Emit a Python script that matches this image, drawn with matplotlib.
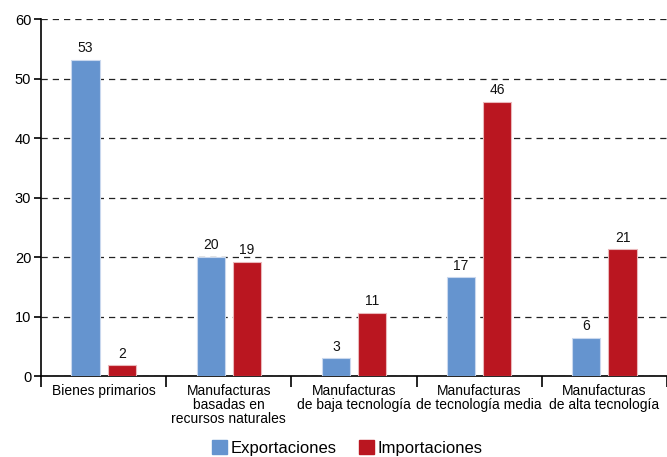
import matplotlib
matplotlib.use("Agg")
import matplotlib.pyplot as plt
from matplotlib.patches import Patch
import numpy as np

plt.rcParams['font.family'] = ['Liberation Sans', 'DejaVu Sans']

categories = ["Bienes primarios",
              "Manufacturas\nbasadas en\nrecursos naturales",
              "Manufacturas\nde baja tecnología",
              "Manufacturas\nde tecnología media",
              "Manufacturas\nde alta tecnología"]
exportaciones = [53.2, 20.0, 3.0, 16.6, 6.4]
importaciones = [1.8, 19.2, 10.6, 46.1, 21.3]
export_labels = ["53", "20", "3", "17", "6"]
import_labels = ["2", "19", "11", "46", "21"]
series_names = ["Exportaciones", "Importaciones"]
yticks = [0, 10, 20, 30, 40, 50, 60]

blue = "#6594CF"
red = "#BA1620"

fig = plt.figure(figsize=(6.67, 4.57), dpi=100)
ax = fig.add_axes([0.0615, 0.177, 0.9385, 0.781])

x = np.arange(len(categories))
w = 0.225
off = 0.145
ax.bar(x - off, exportaciones, w, color=blue, edgecolor="#c9d8ee", linewidth=0.8, zorder=3)
ax.bar(x + off, importaciones, w, color=red, edgecolor="#eab8bb", linewidth=0.8, zorder=3)

for xi, v, t in zip(x - off, exportaciones, export_labels):
    ax.text(xi, v + 0.8, t, ha="center", va="bottom", fontsize=10, color="#111111")
for xi, v, t in zip(x + off, importaciones, import_labels):
    ax.text(xi, v + 0.8, t, ha="center", va="bottom", fontsize=10, color="#111111")

ax.set_xlim(-0.5, len(categories) - 0.5)
ax.set_ylim(0, 60)
ax.set_yticks(yticks)
ax.set_yticklabels([str(t) for t in yticks], fontsize=10.5)
ax.yaxis.grid(True, linestyle=(0, (5, 4)), color="#222222", linewidth=0.9, zorder=0)
ax.set_axisbelow(True)

ax.spines['top'].set_visible(False)
ax.spines['right'].set_visible(False)
ax.spines['left'].set_linewidth(1.2)
ax.spines['bottom'].set_linewidth(1.2)
ax.tick_params(axis='y', length=5, width=1.2, pad=2)

# category separator ticks
ax.set_xticks(np.arange(-0.5, len(categories) - 0.5 + 0.01, 1.0))
ax.set_xticklabels([])
ax.tick_params(axis='x', length=8, width=1.2, direction='out')
ax.set_xticks(x, minor=True)
ax.set_xticklabels(categories, minor=True, fontsize=10, linespacing=1.0, va="top")
ax.tick_params(axis='x', which='minor', length=0, pad=6)

handles = [Patch(facecolor=blue, edgecolor=blue), Patch(facecolor=red, edgecolor=red)]
fig.legend(handles, series_names, loc="lower center", bbox_to_anchor=(0.521, -0.03),
           ncol=2, frameon=False, fontsize=12, handlelength=0.9, handleheight=0.9,
           handletextpad=0.2, columnspacing=1.35)

fig.savefig("out.png", dpi=100)
